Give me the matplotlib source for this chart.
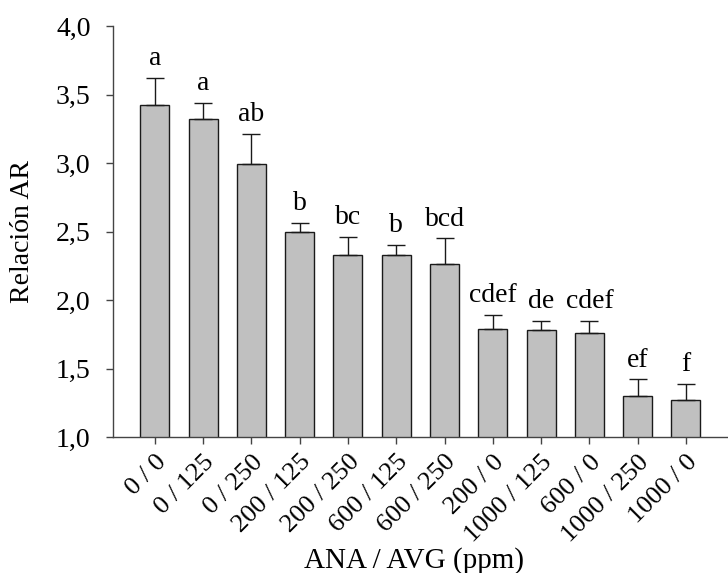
import matplotlib
matplotlib.use("Agg")
import matplotlib.pyplot as plt
from matplotlib.ticker import FuncFormatter
import numpy as np

plt.rcParams.update({
    "font.family": "Liberation Serif",
    "font.size": 20,
})

tratamientos = ["0 / 0", "0 / 125", "0 / 250", "200 / 125", "200 / 250", "600 / 125",
                "600 / 250", "200 / 0", "1000 / 125", "600 / 0", "1000 / 250", "1000 / 0"]
medias = [3.42, 3.32, 2.99, 2.50, 2.33, 2.33, 2.26, 1.79, 1.78, 1.76, 1.30, 1.27]
errores = [0.20, 0.12, 0.22, 0.06, 0.13, 0.07, 0.19, 0.10, 0.07, 0.09, 0.12, 0.12]
letras = ["a", "a", "ab", "b", "bc", "b", "bcd", "cdef", "de", "cdef", "ef", "f"]

fig = plt.figure(figsize=(7.28, 5.73), dpi=100)
ax = fig.add_axes([0.155, 0.2373, 0.8436, 0.7173])

x = np.arange(len(tratamientos))
ax.bar(x, medias, width=0.6, color="#c0c0c0", edgecolor="#1a1a1a", linewidth=1.0, zorder=2)
ax.errorbar(x, medias, yerr=[np.zeros(len(errores)), errores], fmt="none",
            ecolor="#1a1a1a", elinewidth=1.0, capsize=6.5, capthick=1.0, zorder=3)

# letras de significancia sobre cada barra
for xi, m, e, l in zip(x, medias, errores, letras):
    ax.text(xi, m + e + 0.05, l, ha="center", va="bottom", fontsize=20)

ax.set_ylim(1.0, 4.0)
ax.set_yticks(np.arange(1.0, 4.01, 0.5))
ax.yaxis.set_major_formatter(FuncFormatter(lambda v, p: f"{v:.1f}".replace(".", ",")))
ax.set_xlim(-0.87, 11.85)
ax.set_xticks(x)
ax.set_xticklabels(tratamientos, rotation=45, ha="right", rotation_mode="anchor")

ax.tick_params(axis="both", direction="out", length=5, width=1.0, color="#444444")
ax.tick_params(axis="y", labelsize=20, pad=11)
ax.tick_params(axis="x", labelsize=19, pad=5)

for s in ["top", "right"]:
    ax.spines[s].set_visible(False)
for s in ["left", "bottom"]:
    ax.spines[s].set_color("#444444")
    ax.spines[s].set_linewidth(1.0)

ax.set_ylabel("Relación AR", fontsize=20, labelpad=15)
ax.set_xlabel("ANA / AVG (ppm)", fontsize=21)
ax.xaxis.set_label_coords(0.49, -0.268)

fig.savefig("out.png", dpi=100)
